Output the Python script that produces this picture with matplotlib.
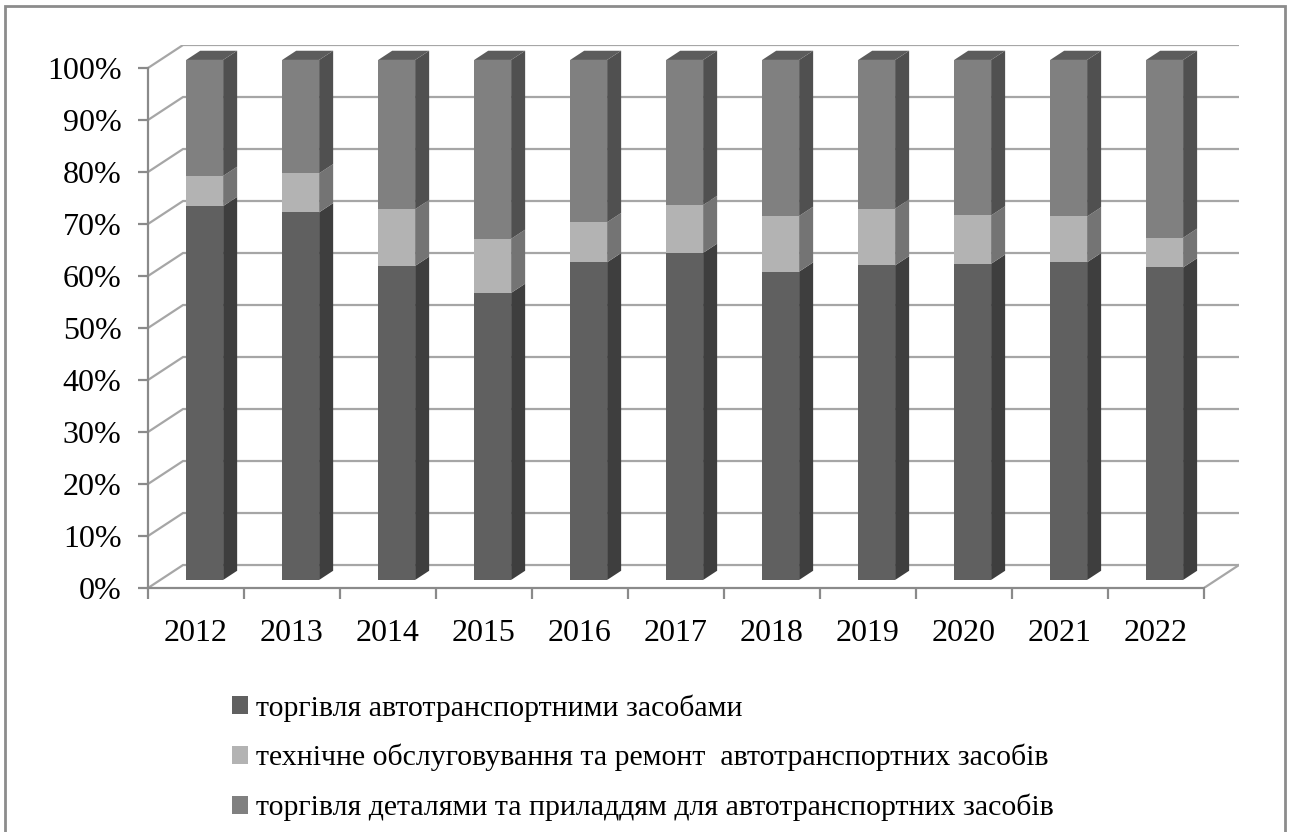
import matplotlib.pyplot as plt
from matplotlib.patches import Polygon, Patch, Rectangle

plt.rcParams['font.family'] = ['Liberation Serif', 'DejaVu Serif']

years = ['2012', '2013', '2014', '2015', '2016', '2017', '2018', '2019', '2020', '2021', '2022']
# shares, %
vehicle_trade = [71.9, 70.7, 60.4, 55.2, 61.1, 62.9, 59.3, 60.5, 60.8, 61.1, 60.1]
maintenance = [5.8, 7.5, 10.9, 10.4, 7.7, 9.2, 10.7, 10.9, 9.3, 8.8, 5.7]
parts_trade = [100 - a - b for a, b in zip(vehicle_trade, maintenance)]

labels = ['торгівля автотранспортними засобами',
          'технічне обслуговування та ремонт  автотранспортних засобів',
          'торгівля деталями та приладдям для автотранспортних засобів']

# front / side colours of each series
front_cols = ['#606060', '#b3b3b3', '#808080']
side_cols = ['#3e3e3e', '#747474', '#505050']
top_col = '#5c5c5c'
grid_col = '#a6a6a6'
axis_col = '#8a8a8a'

# oblique depth offset of the back wall, in data units
DX, DY = 0.365, 4.42
n = len(years)

fig = plt.figure(figsize=(12.9, 8.32), dpi=100)
ax = fig.add_axes([148 / 1290, 244 / 832, 1091 / 1290, 543 / 832])
ax.set_xlim(0, n + DX)
ax.set_ylim(0, 100 + DY)


def proj(x, y, z):
    return (x + z * DX, y + z * DY)


# gridlines on left wall and back wall
for v in range(0, 101, 10):
    ax.plot([0, DX, n + DX], [v, v + DY, v + DY], color=grid_col, lw=1.6,
            zorder=1, solid_joinstyle='miter')
# right edge of floor
ax.plot([n, n + DX], [0, DY], color=grid_col, lw=1.6, zorder=1)

# bars: front face sits at depth z0, bar depth dz
z0, dz = 0.35, 0.40
x_off, bw = 0.27, 0.385
series = [vehicle_trade, maintenance, parts_trade]
for i in range(n):
    x0 = i + x_off
    x1 = x0 + bw
    bottom = 0
    for k, vals in enumerate(series):
        top = bottom + vals[i]
        front = [proj(x0, bottom, z0), proj(x1, bottom, z0),
                 proj(x1, top, z0), proj(x0, top, z0)]
        side = [proj(x1, bottom, z0), proj(x1, bottom, z0 + dz),
                proj(x1, top, z0 + dz), proj(x1, top, z0)]
        ax.add_patch(Polygon(front, closed=True, facecolor=front_cols[k],
                             edgecolor='none', zorder=3))
        ax.add_patch(Polygon(side, closed=True, facecolor=side_cols[k],
                             edgecolor='none', zorder=3))
        bottom = top
    cap = [proj(x0, bottom, z0), proj(x1, bottom, z0),
           proj(x1, bottom, z0 + dz), proj(x0, bottom, z0 + dz)]
    ax.add_patch(Polygon(cap, closed=True, facecolor=top_col,
                         edgecolor='none', zorder=3))

# axes
for s in ['top', 'right']:
    ax.spines[s].set_visible(False)
ax.spines['left'].set_bounds(0, 100)
ax.spines['bottom'].set_bounds(0, n)
for s in ['left', 'bottom']:
    ax.spines[s].set_color(axis_col)
    ax.spines[s].set_linewidth(1.6)
    ax.spines[s].set_zorder(2)

ax.set_yticks(range(0, 101, 10))
ax.set_yticklabels([f'{v}%' for v in range(0, 101, 10)])
ax.set_xticks(range(n + 1))
ax.set_xticklabels([])
ax.set_xticks([i + 0.5 for i in range(n)], minor=True)
ax.set_xticklabels(years, minor=True)
ax.tick_params(axis='y', direction='out', length=7, width=1.6, color=axis_col,
               labelsize=23, pad=12)
ax.tick_params(axis='x', which='major', direction='out', length=8, width=1.6,
               color=axis_col)
ax.tick_params(axis='x', which='minor', length=0, labelsize=23, pad=22)

handles = [Patch(facecolor=c, edgecolor='none') for c in front_cols]
fig.legend(handles, labels, loc='upper left', bbox_to_anchor=(232 / 1290, 1 - 694 / 832),
           frameon=False, fontsize=21.5, handlelength=0.55, handleheight=0.55,
           handletextpad=0.25, labelspacing=0.75, borderaxespad=0, borderpad=0)

# outer frame
fig.patches.append(Rectangle((5 / 1290, -0.01), 1280 / 1290, 1 - 6 / 832 + 0.01,
                             transform=fig.transFigure, fill=False,
                             edgecolor='#8c8c8c', lw=2))

fig.savefig('out.png', dpi=100)
